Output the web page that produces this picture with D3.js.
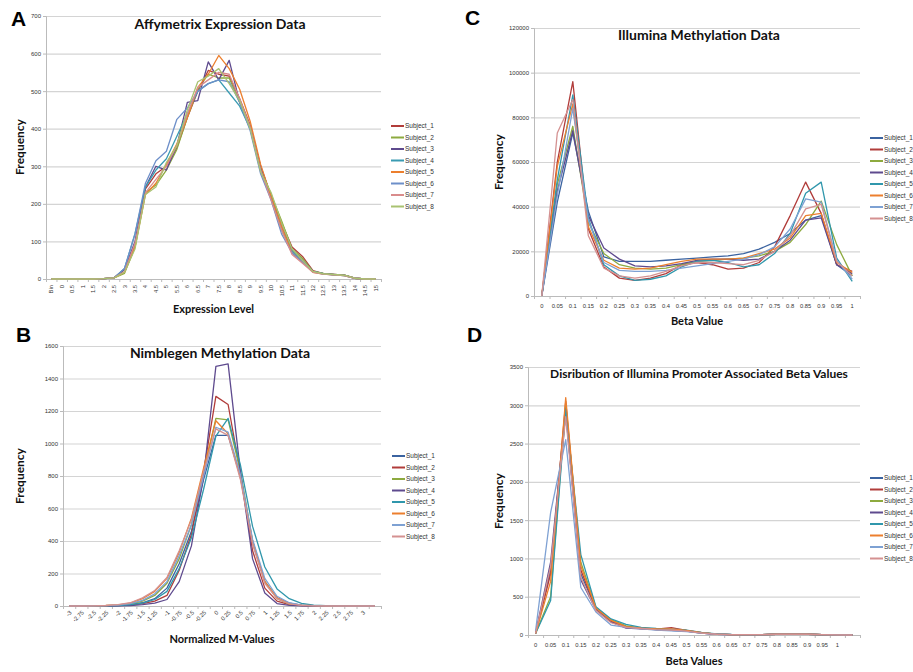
<!DOCTYPE html>
<meta charset="utf-8">
<script src="https://d3js.org/d3.v7.min.js"></script>
<style>
    body { margin: 0; background: #fff; }
    .tick text { font-family: "Liberation Sans", Arial, sans-serif; fill: #333; }
    .legend text { font-family: "Liberation Sans", Arial, sans-serif; font-size: 6.5px; fill: #333; }
    .ttl { font-family: Lato, "Open Sans", sans-serif; font-weight: bold; fill: #111; }
    .letter { font-family: "Liberation Sans", Arial, sans-serif; font-weight: bold; font-size: 21px; fill: #000; }
</style>
<body>
<svg class="chart" width="913" height="672"></svg>
<script>
    ///////////////////////
    // Data
    var subjects = ["Subject_1", "Subject_2", "Subject_3", "Subject_4", "Subject_5", "Subject_6", "Subject_7", "Subject_8"];

    // A: Affymetrix expression
    var affyBins = ["Bin", "0", "0.5", "1", "1.5", "2", "2.5", "3", "3.5", "4", "4.5", "5", "5.5", "6", "6.5", "7",
        "7.5", "8", "8.5", "9", "9.5", "10", "10.5", "11", "11.5", "12", "12.5", "13", "13.5", "14", "14.5", "15"];
    var affyValues = [
        [0, 0, 0, 0, 0, 1, 3, 25, 90, 240, 280, 300, 350, 430, 500, 555, 545, 540, 480, 410, 300, 220, 150, 85, 60, 22, 14, 12, 10, 2, 0, 0],
        [0, 0, 0, 0, 0, 1, 3, 15, 85, 230, 250, 290, 345, 430, 505, 545, 535, 535, 470, 405, 295, 225, 155, 80, 55, 20, 15, 12, 10, 2, 0, 0],
        [0, 0, 0, 0, 0, 1, 3, 25, 100, 245, 300, 290, 355, 470, 475, 578, 530, 582, 470, 405, 300, 220, 140, 78, 50, 20, 14, 12, 10, 2, 0, 0],
        [0, 0, 0, 0, 0, 1, 3, 28, 120, 245, 290, 320, 380, 440, 500, 520, 530, 495, 460, 400, 290, 215, 130, 75, 48, 20, 14, 11, 9, 2, 0, 0],
        [0, 0, 0, 0, 0, 1, 3, 18, 85, 225, 255, 305, 360, 430, 510, 545, 595, 560, 505, 420, 305, 220, 140, 70, 45, 18, 13, 11, 9, 2, 0, 0],
        [0, 0, 0, 0, 0, 1, 3, 28, 120, 255, 315, 340, 425, 455, 500, 520, 530, 525, 470, 395, 280, 210, 120, 70, 45, 19, 13, 11, 9, 2, 0, 0],
        [0, 0, 0, 0, 0, 1, 3, 20, 95, 230, 265, 300, 355, 440, 510, 530, 550, 545, 480, 405, 290, 210, 130, 65, 42, 18, 13, 11, 9, 2, 0, 0],
        [0, 0, 0, 0, 0, 1, 3, 18, 80, 225, 245, 310, 355, 450, 525, 540, 560, 520, 475, 400, 285, 230, 150, 80, 50, 20, 14, 12, 10, 2, 0, 0]
    ];
    var affyTicks = [0, 100, 200, 300, 400, 500, 600, 700];

    // B: Nimblegen methylation
    var nimbleBins = ["-3", "-2.75", "-2.5", "-2.25", "-2", "-1.75", "-1.5", "-1.25", "-1", "-0.75", "-0.5", "-0.25", "0",
        "0.25", "0.5", "0.75", "1", "1.25", "1.5", "1.75", "2", "2.25", "2.5", "2.75", "3", ""];
    var nimbleValues = [
        [0, 0, 0, 1, 3, 8, 20, 45, 110, 260, 460, 780, 1050, 1050, 800, 390, 150, 50, 18, 6, 2, 1, 0, 0, 0, 0],
        [0, 0, 0, 1, 2, 6, 15, 30, 65, 220, 440, 830, 1290, 1240, 820, 340, 110, 30, 8, 3, 1, 0, 0, 0, 0, 0],
        [0, 0, 1, 2, 5, 12, 30, 65, 140, 290, 500, 820, 1155, 1145, 830, 400, 150, 45, 12, 4, 1, 0, 0, 0, 0, 0],
        [0, 0, 0, 0, 1, 3, 8, 18, 40, 150, 370, 800, 1475, 1490, 830, 290, 80, 15, 4, 1, 0, 0, 0, 0, 0, 0],
        [0, 0, 0, 1, 3, 8, 18, 40, 90, 230, 420, 720, 1045, 1155, 870, 490, 240, 105, 45, 16, 6, 2, 1, 0, 0, 0],
        [0, 0, 1, 3, 7, 18, 45, 90, 170, 330, 540, 850, 1140, 1060, 790, 400, 150, 50, 15, 5, 2, 1, 0, 0, 0, 0],
        [0, 0, 1, 2, 6, 15, 35, 75, 150, 310, 500, 800, 1100, 1070, 810, 410, 170, 60, 20, 6, 2, 1, 0, 0, 0, 0],
        [0, 0, 1, 3, 8, 20, 50, 95, 175, 340, 530, 830, 1090, 1050, 780, 380, 140, 45, 13, 4, 1, 0, 0, 0, 0, 0]
    ];
    var nimbleTicks = [0, 200, 400, 600, 800, 1000, 1200, 1400, 1600];

    // C: Illumina methylation
    var illBins = ["0", "0.05", "0.1", "0.15", "0.2", "0.25", "0.3", "0.35", "0.4", "0.45", "0.5", "0.55", "0.6",
        "0.65", "0.7", "0.75", "0.8", "0.85", "0.9", "0.95", "1"];
    var illValues = [
        [0, 42000, 73000, 38000, 17500, 15500, 15500, 15500, 16000, 16500, 17000, 17500, 18000, 19000, 21000, 24000, 28000, 34000, 36000, 14000, 9000],
        [0, 60000, 96000, 30000, 13000, 8000, 7000, 8000, 10000, 14000, 15000, 14000, 12000, 12500, 15000, 22000, 36000, 51000, 37000, 14000, 11000],
        [0, 50000, 76000, 33000, 19000, 14000, 12500, 12000, 12500, 14000, 15500, 16000, 16500, 17000, 18000, 20000, 24000, 32000, 42500, 23000, 9000],
        [0, 47000, 74000, 36000, 21500, 16500, 13500, 13000, 13500, 14500, 16000, 16500, 16500, 16000, 16500, 20000, 25000, 34000, 35000, 14000, 10000],
        [0, 52000, 90000, 35000, 14000, 9000, 7000, 7500, 9000, 13000, 15500, 16000, 15000, 13000, 14000, 19000, 28000, 46000, 51000, 17000, 6500],
        [0, 58000, 86000, 31000, 16000, 12500, 12000, 12500, 14000, 15500, 16500, 16500, 16500, 17000, 19000, 21000, 26000, 36000, 37000, 15000, 10500],
        [0, 45000, 84000, 34000, 15000, 11500, 11000, 11000, 11500, 12500, 13500, 14500, 15500, 16500, 18500, 22000, 30000, 43500, 42000, 16000, 7500],
        [0, 73000, 88000, 27000, 12500, 9000, 8000, 9000, 11000, 13500, 15000, 15000, 14500, 14000, 16000, 20000, 27000, 39000, 41000, 15500, 9000]
    ];
    var illTicks = [0, 20000, 40000, 60000, 80000, 100000, 120000];

    // D: Illumina promoter associated
    var promBins = ["0", "0.05", "0.1", "0.15", "0.2", "0.25", "0.3", "0.35", "0.4", "0.45", "0.5", "0.55", "0.6",
        "0.65", "0.7", "0.75", "0.8", "0.85", "0.9", "0.95", "1", ""];
    var promValues = [
        [20, 850, 2900, 800, 340, 170, 110, 90, 70, 60, 50, 25, 10, 5, 5, 5, 10, 10, 10, 5, 2, 0],
        [20, 800, 3050, 850, 350, 180, 100, 85, 75, 95, 60, 30, 12, 6, 5, 5, 10, 12, 10, 5, 2, 0],
        [20, 500, 3000, 950, 360, 200, 120, 90, 80, 70, 55, 30, 12, 6, 5, 5, 10, 10, 10, 5, 2, 0],
        [20, 950, 2950, 720, 330, 170, 90, 80, 70, 60, 50, 25, 10, 5, 5, 5, 10, 10, 10, 5, 2, 0],
        [20, 450, 2950, 1050, 370, 210, 140, 100, 85, 75, 65, 35, 14, 7, 5, 5, 10, 10, 10, 5, 2, 0],
        [20, 700, 3100, 900, 350, 190, 110, 90, 80, 80, 60, 30, 12, 6, 5, 5, 10, 10, 10, 5, 2, 0],
        [50, 1600, 2550, 620, 300, 130, 100, 80, 65, 55, 45, 25, 10, 5, 5, 5, 8, 8, 8, 4, 2, 0],
        [20, 900, 2850, 750, 320, 160, 100, 85, 70, 65, 50, 25, 10, 5, 5, 5, 10, 10, 10, 5, 2, 0]
    ];
    var promTicks = [0, 500, 1000, 1500, 2000, 2500, 3000, 3500];

    var colorsA = ["#B13C3A", "#8DAA3F", "#5E4A8E", "#3A9BB2", "#EC7F2E", "#6D8FC9", "#D98C8C", "#A9C271"];
    var colorsB = ["#3B63A0", "#B13C3A", "#8DAA3F", "#5E4A8E", "#3097AC", "#EC7F2E", "#7EA1D3", "#D49191"];

    var svg = d3.select(".chart");

    ///////////////////////
    // One panel
    function drawPanel(p) {
        var g = svg.append("g");

        var x = d3.scaleBand().domain(d3.range(p.bins.length)).range([p.left, p.right]);
        var xIdx = d3.scaleLinear().domain([0, p.bins.length]).range([p.left, p.right]);
        var y = d3.scaleLinear().domain([0, d3.max(p.ticks)]).range([p.bottom, p.top]);
        var cx = function(i) { return x(i) + x.bandwidth() / 2; };

        // gridlines
        g.append("g")
            .attr("transform", "translate(" + p.left + ",0)")
            .call(d3.axisLeft(y).tickValues(p.ticks).tickSize(-(p.right - p.left)).tickFormat(""))
            .call(function(s) {
                s.select(".domain").remove();
                s.selectAll("line").attr("stroke", "#d4d4d4").attr("stroke-width", 1.2);
            });

        // y axis
        g.append("g")
            .attr("transform", "translate(" + p.left + ",0)")
            .call(d3.axisLeft(y).tickValues(p.ticks).tickSize(3).tickPadding(2).tickFormat(d3.format("d")))
            .call(function(s) {
                s.select(".domain").attr("stroke", "#bbb");
                s.selectAll("line").attr("stroke", "#bbb");
                s.selectAll("text").style("font-size", "6px").attr("fill", "#333");
            });

        // x axis tick marks between categories
        g.append("g")
            .attr("transform", "translate(0," + p.bottom + ")")
            .call(d3.axisBottom(xIdx).tickValues(d3.range(p.bins.length + 1)).tickSize(3).tickFormat(""))
            .call(function(s) {
                s.select(".domain").attr("stroke", "#bbb");
                s.selectAll("line").attr("stroke", "#bbb");
            });

        // x tick labels
        var lab = g.append("g").attr("class", "tick")
            .selectAll("text").data(p.bins).enter().append("text")
            .style("font-size", "5.8px")
            .attr("fill", "#333")
            .text(function(d) { return d; });
        if (p.xMode == "vertical") {
            lab.attr("text-anchor", "end").attr("dy", "0.35em")
                .attr("transform", function(d, i) { return "translate(" + cx(i) + "," + (p.bottom + 6) + ") rotate(-90)"; });
        } else if (p.xMode == "diag") {
            lab.attr("text-anchor", "end")
                .attr("transform", function(d, i) { return "translate(" + (cx(i) + 3) + "," + (p.bottom + 7) + ") rotate(-45)"; });
        } else {
            lab.attr("text-anchor", "middle")
                .attr("x", function(d, i) { return cx(i); })
                .attr("y", p.bottom + 12);
        }

        // lines
        var line = d3.line()
            .x(function(d, i) { return cx(i); })
            .y(function(d) { return y(d); });

        p.values.forEach(function(vals, k) {
            g.append("path")
                .datum(vals)
                .attr("fill", "none")
                .attr("stroke", p.colors[k])
                .attr("stroke-width", 1.3)
                .attr("stroke-linejoin", "round")
                .attr("d", line);
        });

        // legend
        var leg = g.append("g").attr("class", "legend")
            .attr("transform", "translate(" + p.legendX + "," + p.legendY + ")");
        subjects.forEach(function(s, k) {
            leg.append("line")
                .attr("x1", 0).attr("x2", 13)
                .attr("y1", k * 11.5).attr("y2", k * 11.5)
                .attr("stroke", p.colors[k]).attr("stroke-width", 2);
            leg.append("text")
                .attr("x", 14).attr("y", k * 11.5).attr("dy", "0.35em")
                .text(s);
        });

        // titles
        g.append("text").attr("class", "ttl")
            .attr("x", p.titleX).attr("y", p.titleY)
            .attr("text-anchor", "middle")
            .style("font-size", p.titleSize + "px")
            .text(p.title);

        g.append("text").attr("class", "ttl")
            .attr("x", (p.left + p.right) / 2 + p.xTitleShift).attr("y", p.xTitleY)
            .attr("text-anchor", "middle")
            .style("font-size", "11px")
            .text(p.xTitle);

        g.append("text").attr("class", "ttl")
            .attr("transform", "translate(" + p.yTitleX + "," + p.yTitleY + ") rotate(-90)")
            .attr("text-anchor", "middle")
            .style("font-size", "12px")
            .text("Frequency");

        g.append("text").attr("class", "letter")
            .attr("x", p.letterX).attr("y", p.letterY)
            .text(p.letter);
    }

    drawPanel({
        bins: affyBins, values: affyValues, ticks: affyTicks, colors: colorsA,
        left: 46, right: 381, top: 16, bottom: 279, xMode: "vertical",
        title: "Affymetrix Expression Data", titleX: 220, titleY: 29, titleSize: 14,
        xTitle: "Expression Level", xTitleY: 313, xTitleShift: 0,
        yTitleX: 24, yTitleY: 147,
        legendX: 391, legendY: 126, letter: "A", letterX: 11, letterY: 26
    });

    drawPanel({
        bins: nimbleBins, values: nimbleValues, ticks: nimbleTicks, colors: colorsB,
        left: 63, right: 381, top: 346, bottom: 606, xMode: "diag",
        title: "Nimblegen Methylation Data", titleX: 220, titleY: 358, titleSize: 14,
        xTitle: "Normalized M-Values", xTitleY: 643, xTitleShift: 0,
        yTitleX: 24, yTitleY: 476,
        legendX: 392, legendY: 456, letter: "B", letterX: 16, letterY: 342
    });

    drawPanel({
        bins: illBins, values: illValues, ticks: illTicks, colors: colorsB,
        left: 534, right: 860, top: 28, bottom: 296, xMode: "flat",
        title: "Illumina Methylation Data", titleX: 699, titleY: 40, titleSize: 14,
        xTitle: "Beta Value", xTitleY: 325, xTitleShift: 0,
        yTitleX: 503, yTitleY: 162,
        legendX: 870, legendY: 138, letter: "C", letterX: 465, letterY: 25
    });

    drawPanel({
        bins: promBins, values: promValues, ticks: promTicks, colors: colorsB,
        left: 528, right: 860, top: 367, bottom: 635, xMode: "flat",
        title: "Disribution of Illumina Promoter Associated Beta Values", titleX: 699, titleY: 378, titleSize: 12,
        xTitle: "Beta Values", xTitleY: 665, xTitleShift: 0,
        yTitleX: 503, yTitleY: 501,
        legendX: 870, legendY: 478, letter: "D", letterX: 467, letterY: 342
    });
</script>
</body>
